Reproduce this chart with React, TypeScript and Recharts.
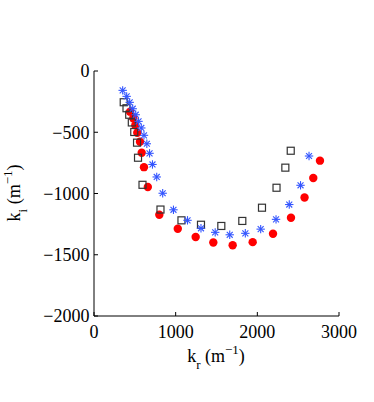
import React from 'react';
import { ScatterChart, Scatter, XAxis, YAxis } from 'recharts';

const xTicks = [0, 1000, 2000, 3000];
const yTicks = [0, -500, -1000, -1500, -2000];

const starX = [351, 400, 437, 474, 511, 545, 579, 612, 647, 680, 716, 768, 841, 973, 1145, 1310, 1484, 1662, 1853, 2041, 2229, 2391, 2529, 2633];
const starY = [-158, -207, -256, -308, -357, -411, -465, -525, -594, -672, -763, -865, -998, -1133, -1219, -1284, -1317, -1337, -1325, -1291, -1211, -1090, -933, -694];

const squareX = [364, 398, 431, 463, 493, 527, 539, 594, 814, 1071, 1310, 1559, 1816, 2057, 2235, 2343, 2409];
const squareY = [-255, -304, -357, -420, -498, -585, -708, -929, -1131, -1219, -1255, -1265, -1224, -1116, -953, -789, -651];

const circleX = [441, 481, 506, 530, 563, 584, 612, 659, 800, 1026, 1245, 1461, 1698, 1943, 2192, 2412, 2578, 2685, 2767];
const circleY = [-332, -386, -443, -504, -577, -667, -785, -947, -1173, -1288, -1355, -1400, -1423, -1397, -1328, -1198, -1033, -873, -732];

const zip = (xs: number[], ys: number[]) => xs.map((x, i) => ({ x, y: ys[i] }));
const starData = zip(starX, starY);
const squareData = zip(squareX, squareY);
const circleData = zip(circleX, circleY);

const FONT = '"Liberation Serif", "DejaVu Serif", serif';

const Circle = (p: any) => <circle cx={p.cx} cy={p.cy} r={4.2} fill="#ff0000" />;
const Square = (p: any) => (
  <rect x={p.cx - 3.5} y={p.cy - 3.5} width={7} height={7} fill="none" stroke="#333" strokeWidth={1.2} />
);
const Star = (p: any) => {
  const r = 4.2;
  const d = r * 0.707;
  const c = '#3355ff';
  return (
    <g stroke={c} strokeWidth={1.1}>
      <line x1={p.cx - r} y1={p.cy} x2={p.cx + r} y2={p.cy} />
      <line x1={p.cx} y1={p.cy - r} x2={p.cx} y2={p.cy + r} />
      <line x1={p.cx - d} y1={p.cy - d} x2={p.cx + d} y2={p.cy + d} />
      <line x1={p.cx - d} y1={p.cy + d} x2={p.cx + d} y2={p.cy - d} />
    </g>
  );
};

const tickStyle = { fill: '#000', fontSize: 18, fontFamily: FONT };

export default function App() {
  return (
    <div style={{ position: 'absolute', left: 0, top: 0, width: 374, height: 402, background: '#fff' }}>
      <ScatterChart width={374} height={402} margin={{ top: 71, right: 35, bottom: 46, left: 34 }}>
        <XAxis
          type="number"
          dataKey="x"
          domain={[0, 3000]}
          ticks={xTicks}
          allowDataOverflow
          height={40}
          tickSize={-4}
          tickMargin={13}
          tick={tickStyle}
          axisLine={{ stroke: '#000', strokeWidth: 1 }}
          tickLine={{ stroke: '#000' }}
        />
        <XAxis
          xAxisId="top"
          orientation="top"
          type="number"
          dataKey="x"
          domain={[0, 3000]}
          ticks={xTicks}
          allowDataOverflow
          height={0}
          tickSize={-4}
          tick={false}
          axisLine={{ stroke: '#000', strokeWidth: 1 }}
          tickLine={{ stroke: '#000' }}
        />
        <YAxis
          type="number"
          dataKey="y"
          domain={[-2000, 0]}
          ticks={yTicks}
          allowDataOverflow
          width={60}
          tickSize={-4}
          tickMargin={8.5}
          tick={tickStyle}
          tickFormatter={(v: number) => (v < 0 ? '\u2212' + Math.abs(v) : String(v))}
          axisLine={{ stroke: '#000', strokeWidth: 1 }}
          tickLine={{ stroke: '#000' }}
        />
        <YAxis
          yAxisId="right"
          orientation="right"
          type="number"
          dataKey="y"
          domain={[-2000, 0]}
          ticks={yTicks}
          allowDataOverflow
          width={0}
          tickSize={-4}
          tick={false}
          axisLine={{ stroke: '#000', strokeWidth: 1 }}
          tickLine={{ stroke: '#000' }}
        />
        <Scatter data={circleData} shape={Circle} isAnimationActive={false} />
        <Scatter data={squareData} shape={Square} isAnimationActive={false} />
        <Scatter data={starData} shape={Star} isAnimationActive={false} />
        <text x={216} y={362} textAnchor="middle" fontFamily={FONT} fontSize={18} fill="#000">
          k<tspan dy={7} fontSize={13}>r</tspan>
          <tspan dy={-7}> (m</tspan>
          <tspan dy={-8} fontSize={13}>{'\u22121'}</tspan>
          <tspan dy={8}>)</tspan>
        </text>
        <text
          x={20}
          y={193}
          textAnchor="middle"
          fontFamily={FONT}
          fontSize={18}
          fill="#000"
          transform="rotate(-90, 20, 193)"
        >
          k<tspan dy={7} fontSize={13}>i</tspan>
          <tspan dy={-7}> (m</tspan>
          <tspan dy={-8} fontSize={13}>{'\u22121'}</tspan>
          <tspan dy={8}>)</tspan>
        </text>
      </ScatterChart>
    </div>
  );
}
